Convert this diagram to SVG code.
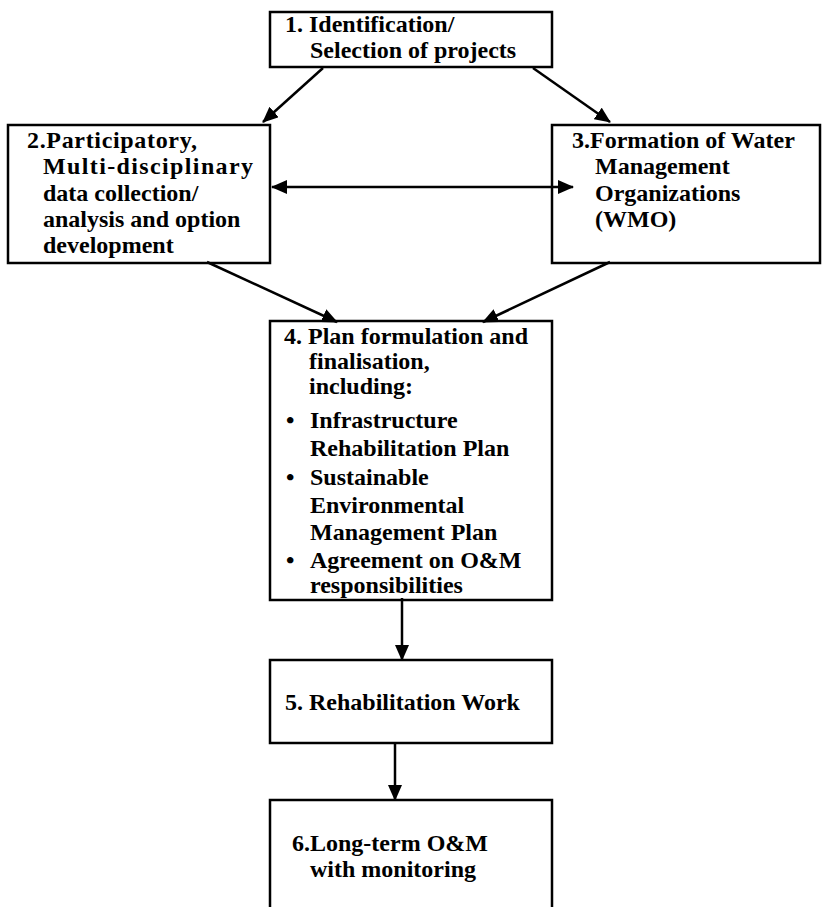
<svg xmlns="http://www.w3.org/2000/svg" width="822" height="907" viewBox="0 0 822 907">
  <defs>
    <style>
      .box { fill: #ffffff; stroke: #000000; stroke-width: 2.5; }
      .lbl { font-family: "Liberation Serif", "Times New Roman", serif; font-weight: bold; font-size: 24px; fill: #000000; }
      .link { stroke: #000000; stroke-width: 2.5; fill: none; }
    </style>
    <marker id="head" viewBox="0 0 16 14" refX="15" refY="7" markerWidth="16" markerHeight="14" markerUnits="userSpaceOnUse" orient="auto-start-reverse">
      <path d="M0,0 L16,7 L0,14 Z" fill="#000000"/>
    </marker>
  </defs>
  <rect width="822" height="907" fill="#ffffff"/>

  <g id="node1">
    <rect class="box" x="270" y="12" width="282" height="55"/>
    <text class="lbl" x="285" y="32">1. Identification/</text>
    <text class="lbl" x="310" y="58">Selection of projects</text>
  </g>

  <g id="node2">
    <rect class="box" x="8" y="125" width="262" height="138"/>
    <text class="lbl" x="27" y="148" textLength="170" lengthAdjust="spacing">2.Participatory,</text>
    <text class="lbl" x="43" y="174" textLength="210" lengthAdjust="spacing">Multi-disciplinary</text>
    <text class="lbl" x="43" y="201">data collection/</text>
    <text class="lbl" x="43" y="227">analysis and option</text>
    <text class="lbl" x="43" y="253">development</text>
  </g>

  <g id="node3">
    <rect class="box" x="552" y="125" width="268" height="138"/>
    <text class="lbl" x="572" y="148">3.Formation of Water</text>
    <text class="lbl" x="595" y="174">Management</text>
    <text class="lbl" x="595" y="201">Organizations</text>
    <text class="lbl" x="595" y="227">(WMO)</text>
  </g>

  <g id="node4">
    <rect class="box" x="270" y="321" width="282" height="279"/>
    <text class="lbl" x="284" y="344">4. Plan formulation and</text>
    <text class="lbl" x="309" y="369">finalisation,</text>
    <text class="lbl" x="309" y="394">including:</text>
    <text class="lbl" x="286" y="428">•</text>
    <text class="lbl" x="310" y="428">Infrastructure</text>
    <text class="lbl" x="310" y="456">Rehabilitation Plan</text>
    <text class="lbl" x="286" y="485">•</text>
    <text class="lbl" x="310" y="485">Sustainable</text>
    <text class="lbl" x="310" y="513">Environmental</text>
    <text class="lbl" x="310" y="540">Management Plan</text>
    <text class="lbl" x="286" y="568">•</text>
    <text class="lbl" x="310" y="568">Agreement on O&amp;M</text>
    <text class="lbl" x="310" y="593">responsibilities</text>
  </g>

  <g id="node5">
    <rect class="box" x="270" y="660" width="282" height="83"/>
    <text class="lbl" x="285" y="710">5. Rehabilitation Work</text>
  </g>

  <g id="node6">
    <rect class="box" x="270" y="800" width="282" height="130"/>
    <text class="lbl" x="292" y="851">6.Long-term O&amp;M</text>
    <text class="lbl" x="310" y="877">with monitoring</text>
  </g>

  <g id="connectors">
    <line class="link" x1="323" y1="68" x2="263" y2="122" marker-end="url(#head)"/>
    <line class="link" x1="533" y1="68" x2="610" y2="122" marker-end="url(#head)"/>
    <line class="link" x1="272" y1="187" x2="573" y2="187" marker-start="url(#head)" marker-end="url(#head)"/>
    <line class="link" x1="207" y1="262" x2="337" y2="322" marker-end="url(#head)"/>
    <line class="link" x1="610" y1="262" x2="483" y2="322" marker-end="url(#head)"/>
    <line class="link" x1="402" y1="598" x2="402" y2="660" marker-end="url(#head)"/>
    <line class="link" x1="395" y1="743" x2="395" y2="800" marker-end="url(#head)"/>
  </g>
</svg>
